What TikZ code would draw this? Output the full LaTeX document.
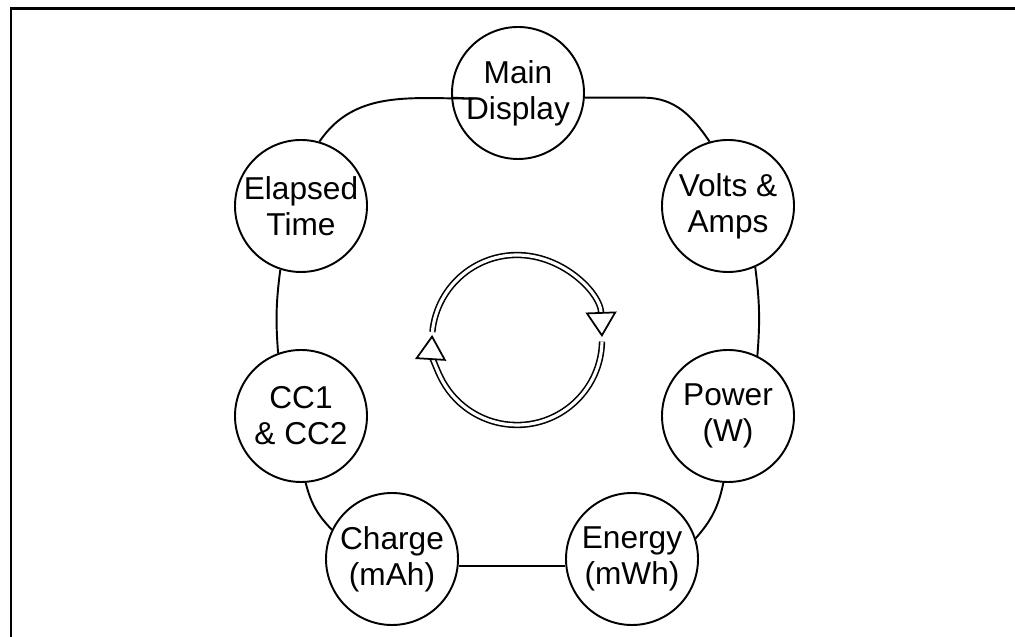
\documentclass[tikz,border=0pt]{standalone}
\usepackage{fontspec}
\setmainfont{Liberation Sans}
\usetikzlibrary{arrows.meta}

\begin{document}
\begin{tikzpicture}[
      mode/.style={circle, draw, line width=1.1pt, minimum size=2.64cm, inner sep=0pt,
                   align=center, font=\fontsize{18}{20.5}\selectfont},
      ln/.style  ={line width=1.1pt},
      cyc/.style ={line width=0.9pt, double, double distance=1.8pt,
                   -{Triangle[open, fill=white, line width=1pt, length=0.5cm, width=0.62cm]}}
    ]
    \useasboundingbox (0,0) rectangle (20.3,12.74);

    % --- Marco ---
    \draw[line width=1.7pt] (0.22,-0.5) -- (0.22,12.56) -- (21,12.56);

    % --- Pantallas ---
    \node[mode] (main)    at (10.36, 10.88) {Main\\Display};
    \node[mode] (volts)   at (14.56, 8.62)  {Volts \&\\Amps};
    \node[mode] (power)   at (14.56, 4.42)  {Power\\(W)};
    \node[mode] (energy)  at (12.64, 1.56)  {Energy\\(mWh)};
    \node[mode] (charge)  at (7.84, 1.56)   {Charge\\(mAh)};
    \node[mode] (cc)      at (6.02, 4.42)   {CC1\\\& CC2};
    \node[mode] (elapsed) at (6.02, 8.62)   {Elapsed\\Time};

    % --- Anillo de conexiones ---
    \draw[ln] (main.-4) -- ++(1.18,0) to[out=0,in=124] (volts.106);
    \draw[ln] (volts.-66) to[bend left=6] (power.64);
    \draw[ln] (power.-94) to[bend left=15] (energy.18);
    \draw[ln] (energy.186) -- (charge.-6);
    \draw[ln] (charge.154) to[bend left=15] (cc.-86);
    \draw[ln] (cc.110) to[bend left=6] (elapsed.252);
    \draw[ln] (elapsed.74) to[out=56,in=180] ++(3.08,0.86) coordinate (elbow) -- (main.184);

    % --- Ciclo central ---
    \coordinate (ctr) at (10.34, 5.94);
    \draw[cyc] (ctr) ++(174.6:1.7) arc[start angle=174.6, end angle=2, radius=1.7];
    \draw[cyc] (ctr) ++(-1:1.7) arc[start angle=-1, end angle=-183.4, radius=1.7];

\end{tikzpicture}
\end{document}
